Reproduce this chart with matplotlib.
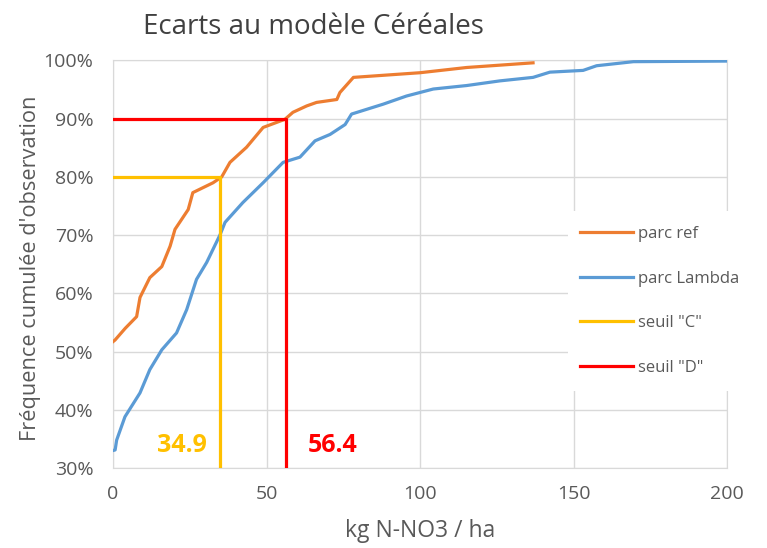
import matplotlib.pyplot as plt
from matplotlib.patches import Rectangle
from matplotlib.ticker import FuncFormatter

plt.rcParams['font.family'] = ['Open Sans', 'DejaVu Sans']

# parc ref (orange) - cumulative frequency (%)
ref_x = [0, 0.7, 4, 7.7, 8.8, 12, 15.9, 18.6, 20.2, 24.5, 26, 32.6, 35.4, 38.1,
         43.5, 48.9, 56, 58.6, 63.1, 66.3, 72.9, 73.9, 78.3, 100, 115.2, 136.8]
ref_y = [51.7, 52.0, 54.0, 56.0, 59.3, 62.7, 64.6, 68.1, 71.0, 74.4, 77.3, 79.0, 80.0, 82.5,
         85.1, 88.5, 89.9, 91.1, 92.2, 92.8, 93.3, 94.5, 97.1, 97.9, 98.8, 99.6]

# parc Lambda (blue)
lam_x = [0, 0.7, 1.2, 3.9, 8.8, 12, 15.9, 20.7, 24, 27.2, 30.5, 34.9, 36.5, 42.3,
         48.9, 55.4, 60.9, 65.8, 70.7, 75.6, 77.7, 88, 95.6, 104.3, 115.2, 126,
         136.8, 142.3, 153.1, 157.5, 169.5, 200]
lam_y = [33.0, 33.1, 34.8, 38.8, 42.9, 46.9, 50.3, 53.2, 57.2, 62.4, 65.3, 70.1, 72.2, 75.6,
         79.0, 82.5, 83.4, 86.2, 87.3, 89.0, 90.8, 92.5, 93.9, 95.1, 95.7, 96.5,
         97.1, 98.0, 98.3, 99.1, 99.8, 99.9]

seuil_c = 34.9
seuil_d = 56.4
freq_c = 80
freq_d = 90

grey = '#595959'

fig = plt.figure(figsize=(7.67, 5.48), dpi=100)
ax = fig.add_axes([0.1473, 0.146, 0.8007, 0.7436])

ax.plot(ref_x, ref_y, color='#ED7D31', lw=2.3, label='parc ref', zorder=3)
ax.plot(lam_x, lam_y, color='#5B9BD5', lw=2.3, label='parc Lambda', zorder=3)
ax.plot([0, seuil_c, seuil_c], [freq_c, freq_c, 30], color='#FFC000', lw=2.3,
        label='seuil "C"', zorder=4)
ax.plot([0, seuil_d, seuil_d], [freq_d, freq_d, 30], color='#FF0000', lw=2.3,
        label='seuil "D"', zorder=4)

ax.text(22.5, 33.8, f'{seuil_c}', color='#FFC000', fontsize=18, fontweight='bold',
        ha='center', va='center')
ax.text(71.5, 33.8, f'{seuil_d}', color='#FF0000', fontsize=18, fontweight='bold',
        ha='center', va='center')

ax.set_xlim(0, 200)
ax.set_ylim(30, 100)
ax.set_xticks([0, 50, 100, 150, 200])
ax.set_yticks(range(30, 101, 10))
ax.yaxis.set_major_formatter(FuncFormatter(lambda v, p: f'{v:.0f}%'))
ax.grid(True, color='#D9D9D9', lw=1)
ax.set_axisbelow(True)
for s in ax.spines.values():
    s.set_color('#D9D9D9')
ax.tick_params(length=0, colors=grey, labelsize=14)
ax.tick_params(axis='y', pad=14)
ax.tick_params(axis='x', pad=12)

ax.set_xlabel('kg N-NO3 / ha', color=grey, fontsize=16.5)
ax.xaxis.set_label_coords(0.5, -0.125)
ax.set_ylabel("Fréquence cumulée d'observation", color=grey, fontsize=15.7)
ax.yaxis.set_label_coords(-0.118, 0.49)
fig.text(0.1864, 0.951, 'Ecarts au modèle Céréales', color='#404040', fontsize=20,
         ha='left', va='center')

# white legend background, hiding the gridlines like the original
ax.add_patch(Rectangle((0.741, 0.19), 0.27, 0.44, transform=ax.transAxes,
                       facecolor='white', edgecolor='none', clip_on=False, zorder=5))
leg = ax.legend(loc='upper left', bbox_to_anchor=(0.7606, 0.594), frameon=False,
                fontsize=12, labelcolor=grey, handlelength=3.2, handletextpad=0.25,
                labelspacing=1.72, borderpad=0, borderaxespad=0)
leg.set_zorder(6)

plt.savefig('out.png', dpi=100)
